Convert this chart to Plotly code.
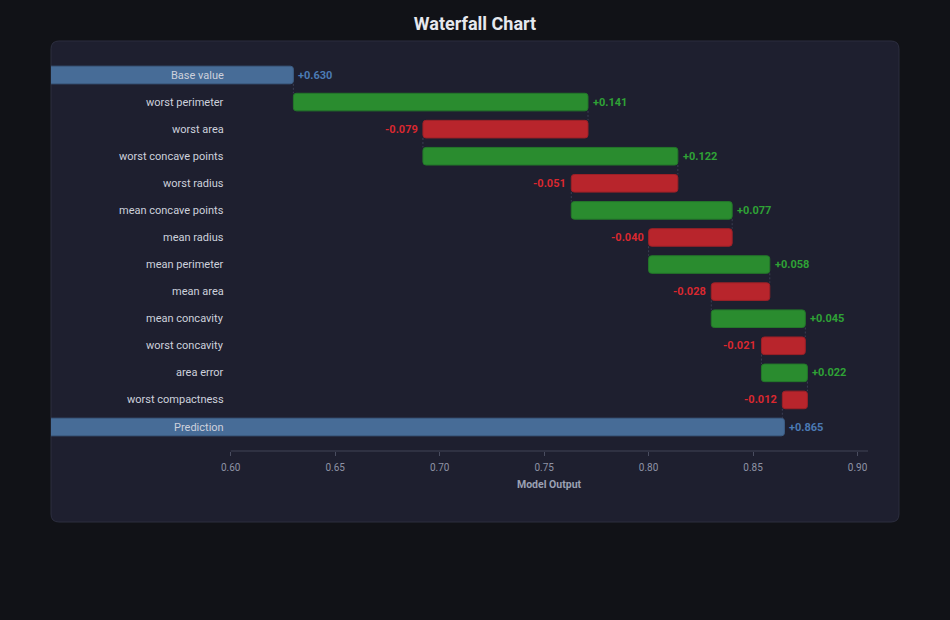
import plotly.graph_objects as go

features = ["Base value", "worst perimeter", "worst area", "worst concave points", "worst radius",
            "mean concave points", "mean radius", "mean perimeter", "mean area", "mean concavity",
            "worst concavity", "area error", "worst compactness", "Prediction"]
base_value = 0.630
contributions = [0.141, -0.079, 0.122, -0.051, 0.077, -0.040, 0.058, -0.028, 0.045, -0.021, 0.022, -0.012]
prediction = 0.865
x_ticks = [0.60, 0.65, 0.70, 0.75, 0.80, 0.85, 0.90]

# colours
PAGE_BG = "#111217"
PANEL_BG = "#1e1f2f"
PANEL_BORDER = "#2c2e3f"
GREEN, GREEN_LINE, GREEN_TXT = "#2a8c2f", "#23772a", "#2fa236"
RED, RED_LINE, RED_TXT = "#b8252c", "#9c2027", "#d9282f"
BLUE, BLUE_LINE, BLUE_TXT = "#476c97", "#3d5e85", "#4b7ab4"

X_MIN, X_MAX = 0.514, 0.905
LEFT_BASE = 0.50

n = len(features)
ys = list(range(n))
bases, widths, colors, lcolors, texts, tcolors, ends = [], [], [], [], [], [], []
connectors_x, connectors_y = [], []
BAR_W = 0.65

# base value
bases.append(LEFT_BASE); widths.append(base_value - LEFT_BASE); ends.append(base_value)
colors.append(BLUE); lcolors.append(BLUE_LINE); texts.append(f"+{base_value:.3f}"); tcolors.append(BLUE_TXT)
cum = base_value
for i, c in enumerate(contributions):
    connectors_x += [cum, cum, None]
    connectors_y += [i + BAR_W / 2, i + 1 - BAR_W / 2, None]
    bases.append(cum); widths.append(c)
    if c >= 0:
        colors.append(GREEN); lcolors.append(GREEN_LINE); texts.append(f"+{c:.3f}"); tcolors.append(GREEN_TXT)
    else:
        colors.append(RED); lcolors.append(RED_LINE); texts.append(f"{c:.3f}"); tcolors.append(RED_TXT)
    cum += c
    ends.append(cum)
connectors_x += [cum, cum, None]
connectors_y += [n - 2 + BAR_W / 2, n - 1 - BAR_W / 2, None]
bases.append(LEFT_BASE); widths.append(prediction - LEFT_BASE); ends.append(prediction)
colors.append(BLUE); lcolors.append(BLUE_LINE); texts.append(f"+{prediction:.3f}"); tcolors.append(BLUE_TXT)

fig = go.Figure()
fig.add_trace(go.Scatter(x=connectors_x, y=connectors_y, mode="lines",
                         line=dict(color="#3b3e52", width=1, dash="2px,2px"),
                         hoverinfo="skip", showlegend=False))
fig.add_trace(go.Bar(
    y=ys, x=widths, base=bases, orientation="h", width=[BAR_W] * n,
    marker=dict(color=colors, line=dict(color=lcolors, width=1), cornerradius=3),
    showlegend=False, hoverinfo="skip",
))

# value labels
for i in range(n):
    neg = widths[i] < 0
    fig.add_annotation(x=ends[i], xref="x", y=i, yref="y", text=f"<b>{texts[i]}</b>", showarrow=False,
                       xanchor="right" if neg else "left", xshift=-3 if neg else 3, yanchor="middle",
                       font=dict(color=tcolors[i], size=11, family="Roboto"))

W, H = 950, 620
ml, mr, mt, mb = 51, 82, 48, 169
pw, ph = W - ml - mr, H - mt - mb

def px_to_paper(px, py):
    return (px - ml) / pw, (H - mb - py) / ph

# rounded panel
x0p, y0p, x1p, y1p, r = 51, 41, 899, 522, 8
def P(px, py):
    a, b = px_to_paper(px, py)
    return f"{a:.5f},{b:.5f}"
path = (f"M {P(x0p + r, y0p)} L {P(x1p - r, y0p)} Q {P(x1p, y0p)} {P(x1p, y0p + r)} "
        f"L {P(x1p, y1p - r)} Q {P(x1p, y1p)} {P(x1p - r, y1p)} "
        f"L {P(x0p + r, y1p)} Q {P(x0p, y1p)} {P(x0p, y1p - r)} "
        f"L {P(x0p, y0p + r)} Q {P(x0p, y0p)} {P(x0p + r, y0p)} Z")
fig.add_shape(type="path", path=path, xref="paper", yref="paper",
              fillcolor=PANEL_BG, line=dict(color=PANEL_BORDER, width=1), layer="below")
# axis line starting at first tick
fig.add_shape(type="line", xref="x", yref="paper", x0=x_ticks[0], x1=X_MAX, y0=0, y1=0,
              line=dict(color="#2f3142", width=2), layer="below")

# category labels
label_x = px_to_paper(226, 0)[0]
for i, f in enumerate(features):
    fig.add_annotation(x=label_x, xref="paper", y=i, yref="y", text=f, showarrow=False,
                       xanchor="right", yanchor="middle",
                       font=dict(color="#cdd1dc", size=11, family="Roboto"))

# axis title centred under the tick span
ax_mid = (x_ticks[0] + X_MAX) / 2
fig.add_annotation(x=ax_mid, xref="x", y=px_to_paper(0, 485)[1], yref="paper",
                   text="<b>Model Output</b>", showarrow=False, xanchor="center", yanchor="middle",
                   font=dict(color="#9ba1b3", size=10.5, family="Roboto"))

fig.update_layout(
    width=W, height=H,
    margin=dict(l=ml, r=mr, t=mt, b=mb),
    paper_bgcolor=PAGE_BG, plot_bgcolor="rgba(0,0,0,0)",
    title=dict(text="<b>Waterfall Chart</b>", x=0.5, xanchor="center", y=1 - 24 / H, yanchor="middle",
               yref="container", font=dict(color="#e6e8ee", size=18, family="Roboto")),
    xaxis=dict(range=[X_MIN, X_MAX], tickvals=x_ticks, ticktext=[f"{t:.2f}" for t in x_ticks],
               showgrid=False, zeroline=False, showline=False,
               ticks="outside", ticklen=4, tickcolor="#4a4d60", tickwidth=1, ticklabelstandoff=3,
               tickfont=dict(color="#8e93a5", size=10, family="Roboto")),
    yaxis=dict(range=[13.886, -0.997], visible=False),
    font=dict(family="Roboto"),
    showlegend=False,
)

fig.write_html("out.html")
